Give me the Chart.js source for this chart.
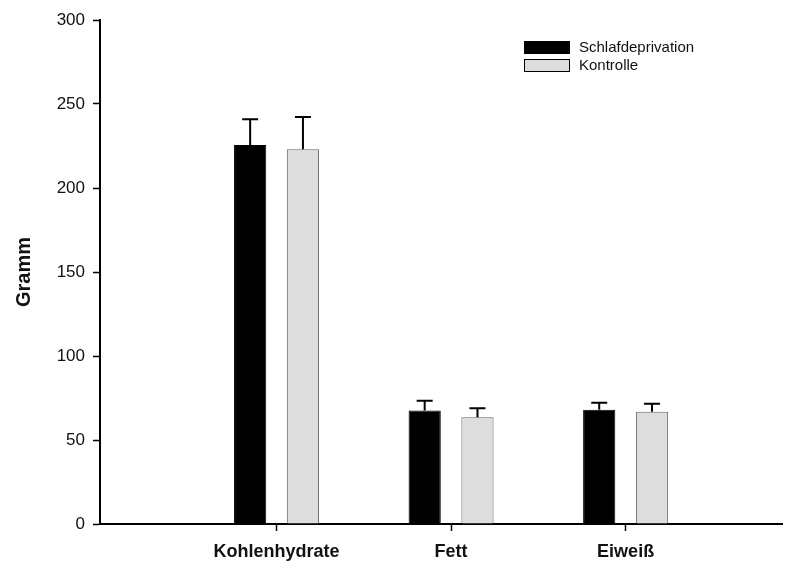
<!DOCTYPE html>
<html>
<head>
<meta charset="utf-8">
<script src="https://cdn.jsdelivr.net/npm/chart.js@4/dist/chart.umd.min.js"></script>
<style>
  html, body { margin: 0; padding: 0; background: #fff; }
  #wrap { width: 790px; height: 563px; position: relative; }
</style>
</head>
<body>
<div id="wrap"><canvas id="c"></canvas></div>
<script>
// Nährstoffaufnahme pro Tag (Mittelwert + Standardfehler)
const categories = ['Kohlenhydrate', 'Fett', 'Eiweiß'];
const seriesNames = ['Schlafdeprivation', 'Kontrolle'];
const sleepDeprivation = [225.6, 67.5, 68.0];
const sleepDeprivationErr = [15.3, 5.9, 4.2];
const control = [223.0, 63.5, 66.8];
const controlErr = [19.3, 5.4, 4.8];
const yTicks = [0, 50, 100, 150, 200, 250, 300];

const FONT = "'Liberation Sans', Arial, sans-serif";
const positions = categories.map((_, i) => i + 1);

const toPoints = vals => vals.map((v, i) => ({ x: positions[i], y: v }));

// Upper error bars with caps
const errorBars = {
  id: 'errorBars',
  afterDatasetsDraw(chart) {
    const ctx = chart.ctx;
    const yScale = chart.scales.y;
    chart.data.datasets.forEach((ds, di) => {
      const meta = chart.getDatasetMeta(di);
      meta.data.forEach((bar, i) => {
        const top = yScale.getPixelForValue(ds.data[i].y + ds.errors[i]);
        ctx.save();
        ctx.strokeStyle = '#000';
        ctx.lineWidth = 2;
        ctx.beginPath();
        ctx.moveTo(bar.x, bar.y);
        ctx.lineTo(bar.x, top);
        ctx.moveTo(bar.x - 8, top);
        ctx.lineTo(bar.x + 8, top);
        ctx.stroke();
        ctx.restore();
      });
    });
  }
};

// Legend drawn inside the plot area
const innerLegend = {
  id: 'innerLegend',
  afterDraw(chart) {
    const ctx = chart.ctx;
    const x = 524, w = 46, h = 13;
    const rows = [41, 59];
    chart.data.datasets.forEach((ds, i) => {
      const y = rows[i];
      ctx.save();
      ctx.fillStyle = ds.backgroundColor;
      ctx.fillRect(x, y, w, h);
      ctx.strokeStyle = '#000';
      ctx.lineWidth = 1;
      ctx.strokeRect(x + 0.5, y + 0.5, w - 1, h - 1);
      ctx.fillStyle = '#111';
      ctx.font = '15px ' + FONT;
      ctx.textBaseline = 'middle';
      ctx.textAlign = 'left';
      ctx.fillText(ds.label, 579, y + h / 2 + 0.5);
      ctx.restore();
    });
  }
};

new Chart(document.getElementById('c'), {
  type: 'bar',
  data: {
    datasets: [
      {
        label: seriesNames[0],
        data: toPoints(sleepDeprivation),
        errors: sleepDeprivationErr,
        backgroundColor: '#000000',
        borderColor: '#000000',
        borderWidth: 1,
        categoryPercentage: 0.605,
        barPercentage: 0.61
      },
      {
        label: seriesNames[1],
        data: toPoints(control),
        errors: controlErr,
        backgroundColor: '#dddddd',
        borderColor: '#666666',
        borderWidth: 1,
        categoryPercentage: 0.605,
        barPercentage: 0.61
      }
    ]
  },
  options: {
    responsive: true,
    maintainAspectRatio: false,
    animation: false,
    layout: { padding: { top: 20, right: 8, left: 0, bottom: 0 } },
    plugins: {
      legend: { display: false },
      tooltip: { enabled: false }
    },
    scales: {
      x: {
        type: 'linear',
        offset: false,
        min: -0.0115,
        max: 3.896,
        afterBuildTicks(scale) {
          scale.ticks = positions.map(v => ({ value: v }));
        },
        afterFit(scale) { scale.height = 39; },
        ticks: {
          callback: v => categories[positions.indexOf(v)] || '',
          color: '#111',
          font: { family: FONT, size: 18, weight: 'bold' },
          padding: 10,
          maxRotation: 0,
          autoSkip: false
        },
        grid: {
          display: true,
          offset: false,
          drawOnChartArea: false,
          drawTicks: true,
          tickLength: 7,
          tickColor: '#000',
          tickWidth: 1.5
        },
        border: { display: true, color: '#000', width: 2 }
      },
      y: {
        min: 0,
        max: 300,
        afterBuildTicks(scale) {
          scale.ticks = yTicks.map(v => ({ value: v }));
        },
        afterFit(scale) { scale.width = 100; },
        ticks: {
          color: '#111',
          font: { family: FONT, size: 17 },
          padding: 8
        },
        grid: {
          display: true,
          drawOnChartArea: false,
          drawTicks: true,
          tickLength: 7,
          tickColor: '#000',
          tickWidth: 1.5
        },
        border: { display: true, color: '#000', width: 2 },
        title: {
          display: true,
          text: 'Gramm',
          color: '#111',
          font: { family: FONT, size: 20, weight: 'bold' },
          padding: { top: 12, bottom: 0 }
        }
      }
    }
  },
  plugins: [errorBars, innerLegend]
});
</script>
</body>
</html>
